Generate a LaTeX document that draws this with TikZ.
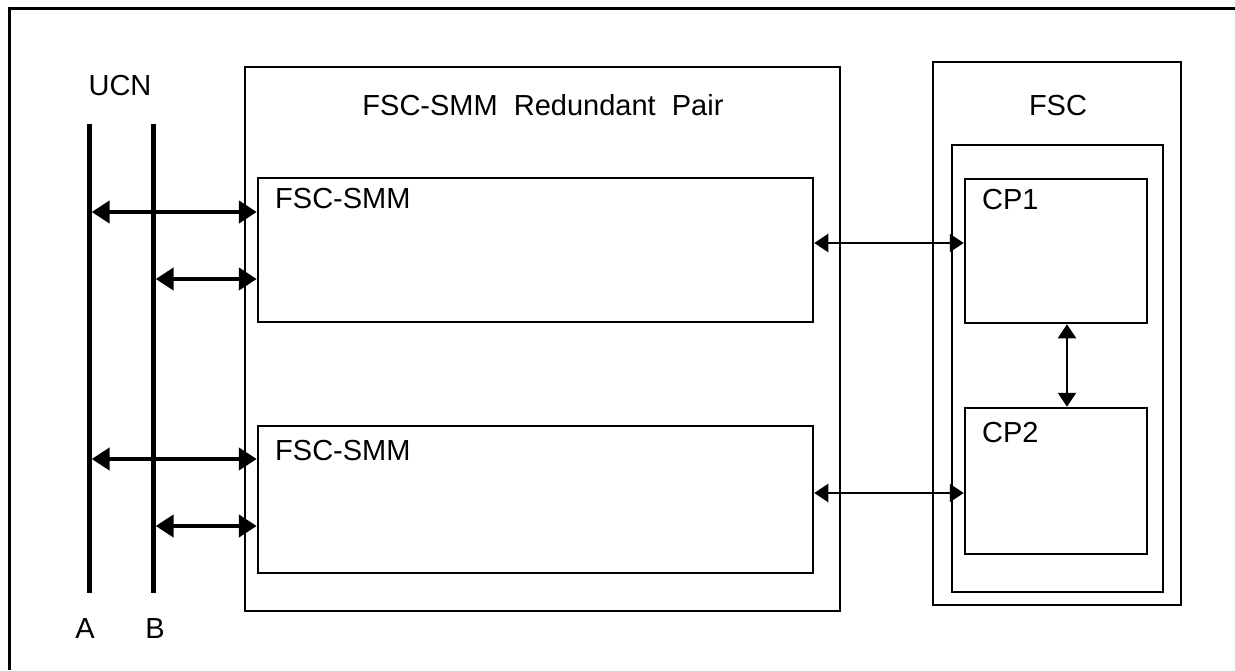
\documentclass[tikz,border=0pt]{standalone}
\usepackage{fontspec}
\setmainfont{Liberation Sans}
\usetikzlibrary{arrows.meta}
\begin{document}
\begin{tikzpicture}[x=1pt,y=-1pt,
  box/.style={draw, line width=2.5pt, rectangle, inner sep=0pt},
  bus/.style={fill=black, rectangle, inner sep=0pt, minimum width=5pt, minimum height=469pt},
  lbl/.style={inner sep=0pt, font=\fontsize{29}{34}\selectfont},
  buslink/.style={line width=4.5pt, {Triangle[length=18pt,width=22pt]}-{Triangle[length=18pt,width=22pt]}},
  cplink/.style={line width=2.2pt, {Triangle[length=14pt,width=18pt]}-{Triangle[length=14pt,width=18pt]}}]
\useasboundingbox (0,0) rectangle (1235,670);

% page frame, open to the right and below
\draw[line width=3pt] (9,670) -- (9,8.5) -- (1235,8.5);

% UCN buses
\node[bus] (busA) at (89,358.5) {};
\node[bus] (busB) at (153,358.5) {};
\node[lbl, anchor=base] (ucn) at (120,95) {UCN};
\node[lbl, anchor=base] (la) at (85,638) {A};
\node[lbl, anchor=base] (lb) at (155,638) {B};

% redundant pair of FSC-SMM modules
\node[box, minimum width=595pt, minimum height=544pt] (pair) at (542.5,339) {};
\node[lbl, anchor=base] (pairlbl) at (543,115) {FSC-SMM\ \ Redundant\ \ Pair};
\node[box, minimum width=555pt, minimum height=144pt] (smm1) at (535.5,250) {};
\node[box, minimum width=555pt, minimum height=147pt] (smm2) at (535.5,499.5) {};
\node[lbl, anchor=base west] (smm1lbl) at (275,208) {FSC-SMM};
\node[lbl, anchor=base west] (smm2lbl) at (275,460) {FSC-SMM};

% FSC with its two processors
\node[box, minimum width=248pt, minimum height=543pt] (fsc) at (1057,333.5) {};
\node[lbl, anchor=base] (fsclbl) at (1058,115) {FSC};
\node[box, minimum width=211pt, minimum height=447pt] (fscin) at (1057.5,368.5) {};
\node[box, minimum width=182pt, minimum height=144pt] (cp1) at (1056,251) {};
\node[box, minimum width=182pt, minimum height=146pt] (cp2) at (1056,481) {};
\node[lbl, anchor=base west] (cp1lbl) at (982,209) {CP1};
\node[lbl, anchor=base west] (cp2lbl) at (982,442) {CP2};

% bus connections
\draw[buslink] (busA.east |- 0,212) -- (smm1.west |- 0,212);
\draw[buslink] (busB.east |- 0,279) -- (smm1.west |- 0,279);
\draw[buslink] (busA.east |- 0,459) -- (smm2.west |- 0,459);
\draw[buslink] (busB.east |- 0,526) -- (smm2.west |- 0,526);

% module to processor links
\draw[cplink] (smm1.east |- 0,243) -- (cp1.west |- 0,243);
\draw[cplink] (smm2.east |- 0,493) -- (cp2.west |- 0,493);
\draw[cplink] (1067,0 |- cp1.south) -- (1067,0 |- cp2.north);
\end{tikzpicture}
\end{document}
